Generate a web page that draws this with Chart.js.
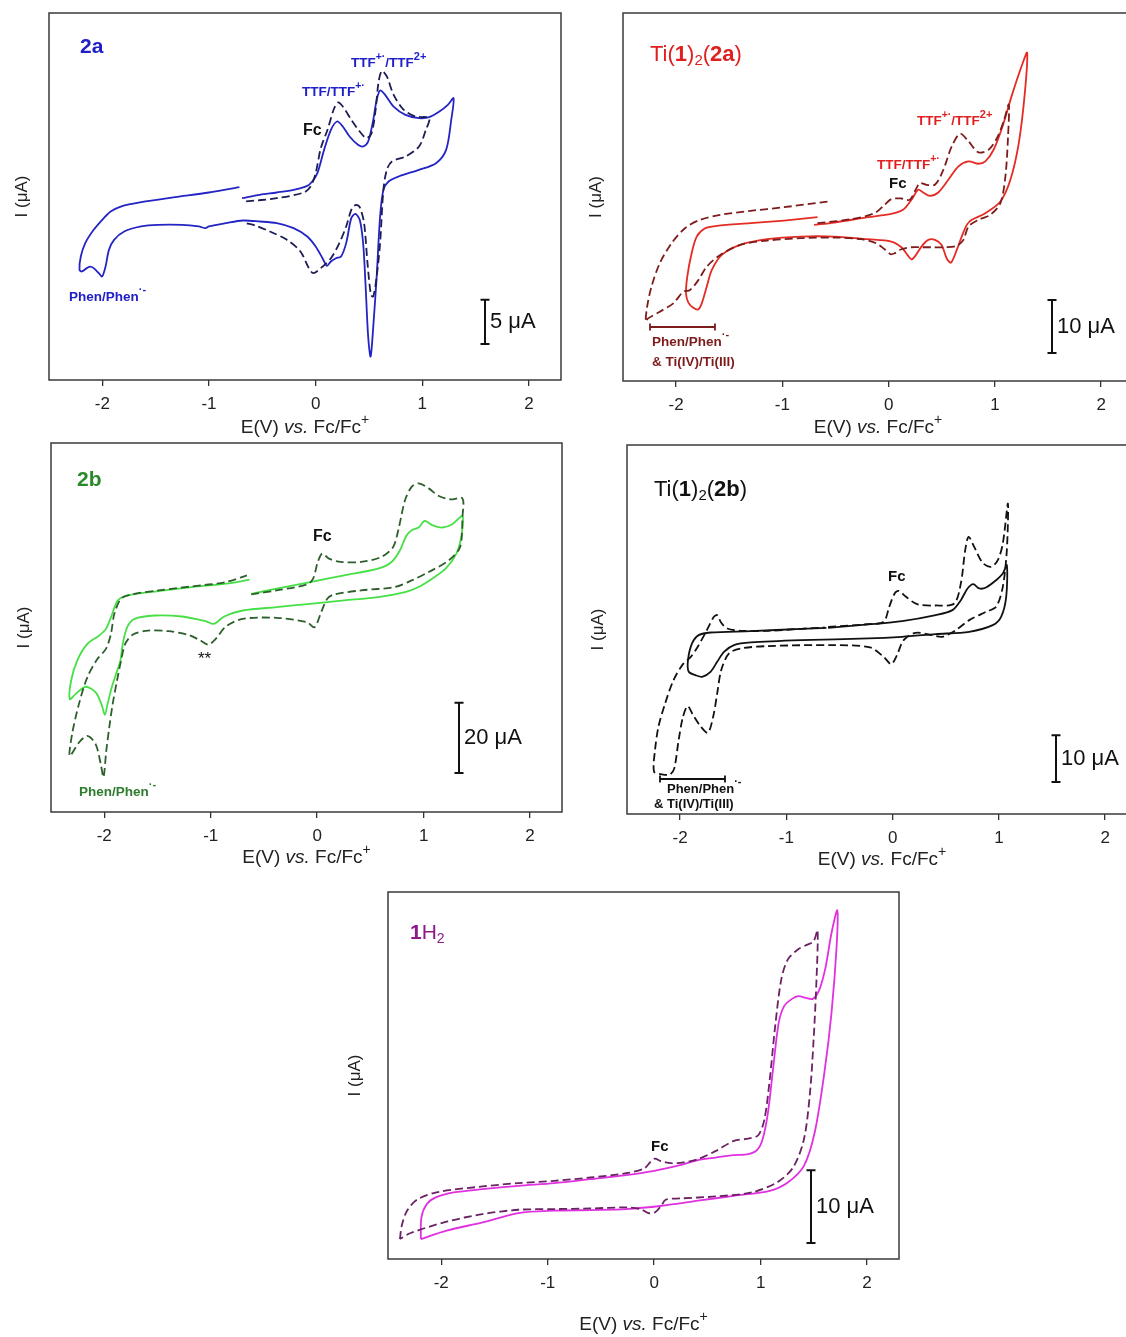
<!DOCTYPE html>
<html><head><meta charset="utf-8">
<script src="https://cdn.jsdelivr.net/npm/chart.js@4.4.1/dist/chart.umd.min.js"></script>
<style>
html,body{margin:0;padding:0;background:#fff;width:1126px;height:1337px;overflow:hidden;position:relative}
canvas{position:absolute}
</style></head><body>
<canvas id="c1"></canvas><canvas id="c2"></canvas><canvas id="c3"></canvas><canvas id="c4"></canvas><canvas id="c5"></canvas>
<script>
// ---------- DATA (E in V vs Fc/Fc+, I in µA) ----------
const tickValues = [-2, -1, 0, 1, 2];

// Panel 2a
const p1SolidE = [-0.69,-0.524,-0.365,-0.207,-0.079,-0.032,0.016,0.079,0.143,0.200,0.254,0.318,0.397,0.445,0.492,0.540,0.572,0.604,0.651,0.731,0.842,0.969,1.064,1.160,1.239,1.293,1.271,1.223,1.128,0.969,0.778,0.683,0.635,0.604,0.572,0.540,0.515,0.492,0.467,0.445,0.413,0.372,0.334,0.286,0.238,0.191,0.143,0.105,0.064,0.000,-0.079,-0.207,-0.365,-0.524,-0.683,-0.842,-1.001,-1.033,-1.096,-1.255,-1.477,-1.636,-1.795,-1.890,-1.938,-1.970,-2.002,-2.033,-2.081,-2.113,-2.145,-2.192,-2.214,-2.202,-2.160,-2.081,-1.986,-1.922,-1.827,-1.636,-1.318,-1.001,-0.715];
const p1SolidI = [-0.19,0.19,0.45,0.75,1.20,1.69,2.63,5.26,7.52,8.46,7.90,6.77,5.83,5.64,6.20,8.65,10.9,11.96,11.47,10.15,9.21,8.84,8.95,9.59,10.34,11.09,8.65,5.26,3.76,3.01,2.26,1.69,0.75,-2.26,-9.02,-14.66,-18.05,-15.79,-9.78,-5.26,-2.63,-1.96,-2.44,-5.26,-6.77,-6.96,-7.33,-7.82,-6.96,-5.64,-4.51,-3.57,-3.01,-2.82,-2.71,-3.01,-3.38,-3.57,-3.38,-3.20,-3.20,-3.38,-3.95,-4.89,-6.02,-7.90,-9.02,-8.65,-8.08,-7.90,-8.08,-8.46,-8.27,-6.77,-5.26,-3.76,-2.44,-1.69,-1.13,-0.64,-0.08,0.45,1.05];
const p1DashE = [-0.652,-0.365,-0.111,-0.048,0.000,0.048,0.111,0.168,0.207,0.254,0.334,0.413,0.477,0.524,0.562,0.588,0.620,0.667,0.731,0.826,0.937,1.064,1.033,0.969,0.842,0.715,0.667,0.635,0.604,0.572,0.540,0.518,0.486,0.454,0.413,0.381,0.340,0.286,0.222,0.143,0.048,-0.022,-0.064,-0.143,-0.270,-0.429,-0.556,-0.652];
const p1DashI = [-0.56,-0.19,0.45,1.13,2.63,5.45,7.52,9.78,10.6,10.15,8.65,7.33,6.58,7.14,9.78,12.78,14.17,13.54,11.47,9.78,9.02,8.84,7.52,5.64,4.51,3.95,3.01,0.75,-5.26,-9.02,-11.28,-11.09,-7.52,-3.01,-1.20,-0.94,-1.32,-3.38,-5.26,-6.96,-8.08,-8.65,-8.08,-6.20,-4.89,-3.95,-3.31,-3.01];

// Panel Ti(1)2(2a)
const p2SolidE = [-0.701,-0.512,-0.196,0.025,0.136,0.215,0.278,0.325,0.388,0.467,0.562,0.657,0.752,0.846,0.910,0.988,1.067,1.162,1.257,1.304,1.282,1.225,1.146,1.052,0.910,0.783,0.736,0.688,0.641,0.587,0.546,0.499,0.436,0.373,0.309,0.246,0.215,0.177,0.120,0.025,-0.196,-0.512,-0.827,-1.143,-1.396,-1.570,-1.664,-1.712,-1.759,-1.791,-1.838,-1.885,-1.907,-1.895,-1.854,-1.806,-1.727,-1.617,-1.301,-0.985,-0.669];
const p2SolidI = [2.20,2.64,3.65,4.28,5.03,6.92,8.81,8.30,7.67,8.30,10.69,13.21,14.15,13.71,14.15,16.35,20.44,26.73,32.39,34.60,27.05,17.61,10.69,6.60,4.40,3.15,2.20,0.00,-2.52,-4.91,-4.09,-1.57,-0.63,-0.63,-1.89,-3.77,-4.28,-3.46,-2.01,-0.94,-0.50,0.00,0.00,-0.50,-1.57,-3.46,-6.29,-9.44,-12.58,-13.71,-13.40,-12.45,-10.69,-7.55,-3.15,0.00,1.57,2.01,2.52,3.02,3.65];
const p2DashE = [-0.670,-0.354,-0.133,-0.038,0.025,0.120,0.199,0.262,0.294,0.357,0.436,0.515,0.594,0.673,0.752,0.846,0.941,1.020,1.083,1.131,1.124,1.099,1.052,0.957,0.846,0.752,0.704,0.641,0.531,0.404,0.309,0.215,0.120,0.057,0.019,-0.038,-0.117,-0.259,-0.512,-0.827,-1.143,-1.396,-1.585,-1.712,-1.790,-1.869,-1.932,-2.027,-2.154,-2.264,-2.286,-2.273,-2.232,-2.154,-2.043,-1.917,-1.775,-1.585,-1.301,-0.985,-0.575];
const p2DashI = [2.52,3.27,4.40,5.98,7.04,7.17,6.92,9.12,10.06,9.75,9.75,12.58,16.98,19.37,17.93,15.85,16.35,18.56,21.70,24.85,18.87,11.32,6.29,4.09,3.15,1.89,-0.63,-1.76,-2.01,-2.01,-2.01,-2.01,-2.39,-3.15,-3.33,-2.39,-1.26,-0.50,-0.19,-0.31,-0.75,-1.57,-3.46,-5.66,-8.18,-10.06,-10.38,-12.58,-14.15,-15.41,-16.04,-13.21,-9.44,-5.03,-1.26,1.57,3.15,4.09,4.84,5.53,6.60];

// Panel 2b
const p3SolidE = [-0.619,-0.381,-0.064,0.254,0.572,0.699,0.778,0.841,0.889,0.953,1.010,1.080,1.175,1.270,1.365,1.353,1.308,1.207,1.080,0.953,0.826,0.572,0.254,-0.064,-0.381,-0.699,-0.873,-0.968,-1.048,-1.270,-1.524,-1.715,-1.784,-1.826,-1.848,-1.889,-1.930,-1.969,-1.994,-2.026,-2.080,-2.175,-2.270,-2.324,-2.311,-2.254,-2.159,-2.048,-1.984,-1.930,-1.873,-1.778,-1.492,-1.175,-0.857,-0.635];
const p3SolidI = [1.90,3.33,5.24,7.14,9.04,10.95,14.28,18.56,19.99,20.75,22.66,21.42,20.75,21.70,23.99,18.09,13.33,9.04,6.19,3.81,2.38,0.95,0.00,-0.95,-1.90,-2.86,-4.57,-6.66,-5.90,-4.57,-4.28,-5.24,-7.62,-12.38,-17.14,-20.94,-24.75,-29.51,-32.56,-29.51,-26.18,-24.56,-26.66,-28.08,-22.85,-17.14,-12.38,-10.00,-8.09,-4.28,0.00,1.43,2.67,3.81,4.76,5.90];
const p3DashE = [-0.619,-0.381,-0.095,-0.038,0.006,0.048,0.111,0.222,0.413,0.603,0.714,0.762,0.826,0.889,0.953,1.048,1.143,1.254,1.365,1.365,1.343,1.238,1.048,0.889,0.730,0.413,0.159,0.095,0.038,-0.025,-0.095,-0.381,-0.699,-0.857,-0.953,-1.022,-1.095,-1.207,-1.397,-1.588,-1.730,-1.803,-1.842,-1.880,-1.921,-1.953,-1.981,-2.007,-2.032,-2.080,-2.159,-2.238,-2.324,-2.302,-2.238,-2.159,-2.064,-1.984,-1.937,-1.905,-1.842,-1.746,-1.492,-1.175,-0.857,-0.660];
const p3DashI = [1.71,2.86,4.57,6.19,10.95,13.33,11.90,10.95,10.95,12.38,15.23,19.99,28.56,32.37,33.32,31.89,29.70,28.75,29.04,23.80,15.23,11.42,8.09,5.71,3.81,2.86,1.71,0.48,-3.33,-7.62,-6.19,-4.95,-5.24,-7.43,-10.95,-12.57,-11.42,-9.81,-8.76,-8.57,-9.71,-12.38,-17.14,-22.85,-29.51,-36.18,-42.84,-50.27,-46.65,-40.94,-38.56,-40.46,-44.27,-38.08,-29.51,-21.90,-16.66,-13.80,-9.52,-3.81,0.48,1.71,2.86,4.00,5.24,7.14];

// Panel Ti(1)2(2b)
const p4SolidE = [-0.607,-0.228,0.089,0.405,0.563,0.642,0.705,0.759,0.816,0.879,0.974,1.037,1.075,1.069,1.021,0.942,0.721,0.405,0.089,-0.228,-0.860,-1.334,-1.493,-1.587,-1.651,-1.714,-1.793,-1.856,-1.919,-1.926,-1.888,-1.825,-1.714,-1.334,-0.860,-0.623];
const p4SolidI = [1.21,1.93,2.64,3.93,5.00,7.14,9.64,10.57,9.64,9.85,11.42,12.85,14.64,7.85,3.57,1.79,0.36,-0.14,-0.71,-1.07,-1.43,-1.93,-2.50,-3.93,-6.07,-8.21,-9.28,-8.92,-8.21,-5.71,-2.14,-0.36,0.21,0.50,1.00,1.21];
const p4DashE = [-0.607,-0.228,-0.085,-0.032,0.019,0.057,0.126,0.231,0.405,0.579,0.642,0.683,0.715,0.768,0.847,0.927,0.990,1.037,1.085,1.075,1.037,0.974,0.879,0.721,0.594,0.468,0.373,0.215,0.104,0.041,-0.013,-0.085,-0.212,-0.544,-1.176,-1.429,-1.540,-1.613,-1.651,-1.689,-1.739,-1.809,-1.878,-1.929,-1.973,-2.014,-2.055,-2.096,-2.172,-2.245,-2.236,-2.204,-2.141,-2.062,-1.973,-1.904,-1.834,-1.752,-1.682,-1.651,-1.613,-1.556,-1.429,-1.176,-0.860,-0.639];
const p4DashI = [1.43,2.00,2.50,5.71,8.57,9.14,7.85,6.28,6.00,6.43,10.71,17.85,20.71,18.56,15.14,14.28,15.71,19.28,27.85,17.85,10.00,5.71,4.64,2.86,0.71,-0.71,-0.36,0.14,-1.43,-4.64,-6.57,-5.00,-3.00,-2.50,-2.71,-3.21,-4.28,-7.85,-12.85,-17.85,-21.28,-19.85,-17.50,-15.57,-17.85,-22.85,-28.92,-30.20,-30.20,-29.63,-24.99,-19.99,-14.99,-9.99,-6.57,-5.14,-2.86,0.57,3.57,3.93,2.28,1.07,0.57,0.57,1.00,1.28];

// Panel 1H2
const p5SolidE = [-2.192,-2.186,-2.135,-2.051,-1.882,-1.612,-1.275,-0.938,-0.600,-0.263,0.000,0.243,0.412,0.580,0.749,0.884,0.968,1.019,1.069,1.120,1.170,1.221,1.295,1.356,1.423,1.491,1.552,1.609,1.666,1.720,1.714,1.666,1.599,1.508,1.407,1.255,1.086,0.749,0.412,0.074,-0.263,-0.600,-0.938,-1.275,-1.612,-1.950,-2.192];
const p5SolidI = [-5.94,-2.97,-1.14,-0.23,0.46,0.91,1.37,1.74,2.28,2.83,3.42,4.20,4.89,5.25,5.57,5.71,6.30,7.76,11.42,17.81,23.74,26.03,27.03,27.40,27.17,27.03,28.31,31.28,36.07,39.18,34.25,25.11,16.89,8.68,4.11,1.83,0.68,0.00,-0.68,-1.37,-1.83,-1.96,-2.05,-2.37,-3.65,-4.79,-5.94];
const p5DashE = [-2.388,-2.371,-2.321,-2.219,-2.017,-1.612,-1.275,-0.938,-0.600,-0.263,-0.094,-0.034,0.007,0.057,0.159,0.277,0.412,0.580,0.749,0.884,0.978,1.036,1.086,1.137,1.194,1.255,1.356,1.440,1.498,1.535,1.525,1.498,1.464,1.407,1.305,1.154,0.917,0.580,0.243,0.108,0.067,0.007,-0.054,-0.128,-0.263,-0.600,-0.938,-1.275,-1.612,-1.950,-2.287,-2.388];
const p5DashI = [-5.94,-4.11,-2.05,-0.46,0.55,1.28,1.74,2.05,2.51,3.10,3.74,4.66,5.11,4.79,4.47,4.57,5.02,6.16,7.53,7.85,8.31,10.50,15.98,23.29,29.68,32.42,33.88,34.47,34.93,36.44,29.68,21.46,14.15,7.76,3.88,1.83,0.46,-0.09,-0.37,-0.55,-1.37,-2.28,-2.37,-1.83,-1.60,-1.74,-1.83,-1.92,-2.51,-3.56,-5.11,-5.94];

// ---------- HELPERS ----------
const FONT = 'Arial, "Liberation Sans", sans-serif';
function pts(E, I) { const n = Math.min(E.length, I.length); const a = []; for (let k = 0; k < n; k++) a.push({x: E[k], y: I[k]}); return a; }
function f(style, size) { return style + ' ' + size + 'px ' + FONT; }
function rich(ctx, x, y, segs, color, align) {
  let w = 0;
  for (const s of segs) { ctx.font = s[1]; w += ctx.measureText(s[0]).width; }
  let cx = align === 'center' ? x - w / 2 : x;
  ctx.fillStyle = color; ctx.textBaseline = 'middle'; ctx.textAlign = 'left';
  for (const s of segs) { ctx.font = s[1]; ctx.fillText(s[0], cx, y + (s[2] || 0)); cx += ctx.measureText(s[0]).width; }
}
const xTitle = [['E(V) ', f('', 19)], ['vs.', f('italic', 19)], [' Fc/Fc', f('', 19)], ['+', f('', 14), -8]];
const ttf2 = () => [['TTF', f('bold', 13.5)], ['+·', f('bold', 10.5), -6], ['/TTF', f('bold', 13.5)], ['2+', f('bold', 11), -6]];
const ttf1 = () => [['TTF/TTF', f('bold', 13.5)], ['+·', f('bold', 10.5), -6]];
const phen = (s) => [['Phen/Phen', f('bold', s)], ['·-', f('bold', 11), -7]];
const fc = (s) => [['Fc', f('bold', s)]];
const tiLabel = (lig) => [['Ti(', f('', 22)], ['1', f('bold', 22)], [')', f('', 22)], ['2', f('', 15), 6], ['(', f('', 22)], [lig, f('bold', 22)], [')', f('', 22)]];

function panel(id, g, yMin, yMax, series, deco) {
  const cv = document.getElementById(id);
  const padL = 50, padT = 10, padR = 10, extraB = 90, XH = 38;
  const W = (g.R - g.L) + padL + padR, H = (g.B - g.T) + padT + extraB;
  cv.width = W; cv.height = H;
  cv.style.left = (g.L - padL) + 'px'; cv.style.top = (g.T - padT) + 'px';
  cv.style.width = W + 'px'; cv.style.height = H + 'px';
  const plug = {
    id: 'deco' + id,
    afterDraw(chart) {
      const ctx = chart.ctx, a = chart.chartArea, ys = chart.scales.y;
      ctx.save();
      ctx.strokeStyle = '#3a3a3a'; ctx.lineWidth = 1.5;
      ctx.strokeRect(a.left, a.top, a.right - a.left, a.bottom - a.top);
      // scale bar
      const sb = deco.scaleBar;
      const len = ys.getPixelForValue(0) - ys.getPixelForValue(sb.value);
      const x = a.left + sb.dx, yb = a.top + sb.dy, yt = yb - len;
      ctx.strokeStyle = '#111'; ctx.lineWidth = 2;
      ctx.beginPath(); ctx.moveTo(x, yt); ctx.lineTo(x, yb);
      ctx.moveTo(x - 4.5, yt); ctx.lineTo(x + 4.5, yt); ctx.moveTo(x - 4.5, yb); ctx.lineTo(x + 4.5, yb); ctx.stroke();
      rich(ctx, x + 5, (yt + yb) / 2, [[sb.label, f('', 22)]], '#111', 'left');
      // range bars
      for (const b of (deco.bars || [])) {
        ctx.strokeStyle = b.color; ctx.lineWidth = 1.8;
        const y0 = a.top + b.dy, x0 = a.left + b.x0, x1 = a.left + b.x1;
        ctx.beginPath(); ctx.moveTo(x0, y0); ctx.lineTo(x1, y0);
        ctx.moveTo(x0, y0 - 3.5); ctx.lineTo(x0, y0 + 3.5); ctx.moveTo(x1, y0 - 3.5); ctx.lineTo(x1, y0 + 3.5); ctx.stroke();
      }
      for (const n of deco.notes) rich(ctx, a.left + n.dx, a.top + n.dy, n.segs, n.color, 'left');
      // axis titles
      ctx.save(); ctx.translate(a.left + deco.yTitleDx, (a.top + a.bottom) / 2); ctx.rotate(-Math.PI / 2);
      rich(ctx, 0, 0, [['I (μA)', f('', 17)]], '#222', 'center'); ctx.restore();
      rich(ctx, (a.left + a.right) / 2, a.bottom + deco.xTitleDy, xTitle, '#222', 'center');
      ctx.restore();
    }
  };
  return new Chart(cv, {
    type: 'scatter',
    data: { datasets: series.map(s => ({
      data: s.data, showLine: true, borderColor: s.color, borderWidth: s.width || 1.8,
      borderDash: s.dash ? [8, 4] : [], pointRadius: 0, tension: 0.3, fill: false
    })) },
    options: {
      responsive: false, animation: false, devicePixelRatio: 1,
      layout: { padding: { left: padL, top: padT, right: padR, bottom: extraB - XH } },
      plugins: { legend: { display: false }, tooltip: { enabled: false } },
      scales: {
        x: { type: 'linear', min: -2.5, max: 2.3,
          afterBuildTicks: (s) => { s.ticks = tickValues.map(v => ({ value: v })); },
          afterFit: (s) => { s.height = XH; },
          grid: { drawOnChartArea: false, drawTicks: true, tickLength: 6, color: '#333', lineWidth: 1.3 },
          border: { display: false },
          ticks: { color: '#222', font: { size: 17, family: FONT }, padding: 8, maxRotation: 0, autoSkip: false,
            callback: (v) => String(v) } },
        y: { type: 'linear', display: false, min: yMin, max: yMax }
      }
    },
    plugins: [plug]
  });
}

// ---------- PANELS ----------
const blue = '#2424c4', red = '#e42b24', dred = '#7d1c1c', green = '#46e046';
panel('c1', {L: 49, T: 13, R: 561, B: 380}, -20.7, 20.7, [
  { data: pts(p1DashE, p1DashI), color: '#1d1d55', dash: true },
  { data: pts(p1SolidE, p1SolidI), color: blue }
], {
  scaleBar: { dx: 436, dy: 331, value: 5, label: '5 μA' },
  notes: [
    { dx: 31, dy: 34, segs: [['2a', f('bold', 21)]], color: '#2020c8' },
    { dx: 302, dy: 50, segs: ttf2(), color: '#2020c8' },
    { dx: 253, dy: 79, segs: ttf1(), color: '#2020c8' },
    { dx: 254, dy: 118, segs: fc(16), color: '#111' },
    { dx: 20, dy: 284, segs: phen(13.5), color: '#2020c8' }
  ],
  yTitleDx: -27, xTitleDy: 48
});

panel('c2', {L: 623, T: 13, R: 1133, B: 381}, -27.2, 42.1, [
  { data: pts(p2DashE, p2DashI), color: dred, dash: true },
  { data: pts(p2SolidE, p2SolidI), color: red }
], {
  scaleBar: { dx: 429, dy: 340, value: 10, label: '10 μA' },
  bars: [{ x0: 27, x1: 92, dy: 314, color: dred }],
  notes: [
    { dx: 27, dy: 42, segs: tiLabel('2a'), color: '#e02020' },
    { dx: 294, dy: 108, segs: ttf2(), color: '#e02020' },
    { dx: 254, dy: 152, segs: ttf1(), color: '#e02020' },
    { dx: 266, dy: 171, segs: fc(15), color: '#111' },
    { dx: 29, dy: 329, segs: phen(13.5), color: dred },
    { dx: 29, dy: 349, segs: [['& Ti(IV)/Ti(III)', f('bold', 13.5)]], color: dred }
  ],
  yTitleDx: -27, xTitleDy: 47
});

panel('c3', {L: 51, T: 443, R: 562, B: 812}, -60.2, 44.8, [
  { data: pts(p3DashE, p3DashI), color: '#2d5f2d', dash: true },
  { data: pts(p3SolidE, p3SolidI), color: green }
], {
  scaleBar: { dx: 408, dy: 330, value: 20, label: '20 μA' },
  notes: [
    { dx: 26, dy: 37, segs: [['2b', f('bold', 21)]], color: '#2a8a2a' },
    { dx: 262, dy: 94, segs: fc(16), color: '#111' },
    { dx: 147, dy: 216, segs: [['**', f('', 17)]], color: '#111' },
    { dx: 28, dy: 349, segs: phen(13.5), color: '#2e7d2e' }
  ],
  yTitleDx: -27, xTitleDy: 46
});

panel('c4', {L: 627, T: 445, R: 1137, B: 814}, -38.7, 40.4, [
  { data: pts(p4DashE, p4DashI), color: '#111', dash: true },
  { data: pts(p4SolidE, p4SolidI), color: '#111' }
], {
  scaleBar: { dx: 429, dy: 337, value: 10, label: '10 μA' },
  bars: [{ x0: 33, x1: 98, dy: 334, color: '#111' }],
  notes: [
    { dx: 27, dy: 45, segs: tiLabel('2b'), color: '#111' },
    { dx: 261, dy: 132, segs: fc(15), color: '#111' },
    { dx: 40, dy: 344, segs: phen(13), color: '#111' },
    { dx: 27, dy: 359, segs: [['& Ti(IV)/Ti(III)', f('bold', 13)]], color: '#111' }
  ],
  yTitleDx: -29, xTitleDy: 46
});

panel('c5', {L: 388, T: 892, R: 899, B: 1259}, -8.68, 41.7, [
  { data: pts(p5DashE, p5DashI), color: '#6a2262', dash: true },
  { data: pts(p5SolidE, p5SolidI), color: '#e030e0' }
], {
  scaleBar: { dx: 423, dy: 351, value: 10, label: '10 μA' },
  notes: [
    { dx: 22, dy: 41, segs: [['1', f('bold', 21)], ['H', f('', 21)], ['2', f('', 14), 6]], color: '#8b1a8b' },
    { dx: 263, dy: 255, segs: fc(15), color: '#111' }
  ],
  yTitleDx: -33, xTitleDy: 66
});
</script>
</body></html>
